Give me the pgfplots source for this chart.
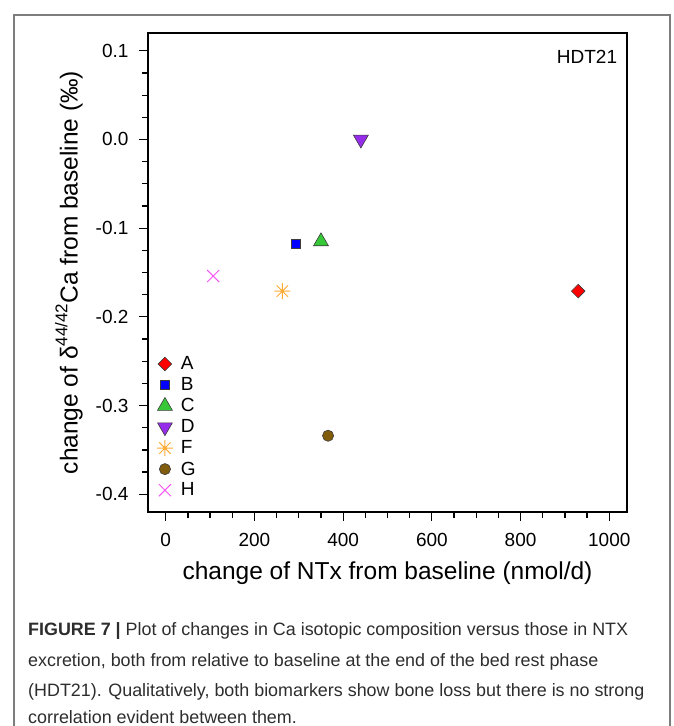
\documentclass[border=0pt]{standalone}
\usepackage{pgfplots}
\pgfplotsset{compat=1.18}
\usepackage{fontspec}
\setmainfont{Liberation Sans}

\definecolor{cA}{RGB}{255,0,0}
\definecolor{cB}{RGB}{0,0,255}
\definecolor{cC}{RGB}{55,200,55}
\definecolor{cD}{RGB}{150,45,235}
\definecolor{cF}{RGB}{255,170,50}
\definecolor{cG}{RGB}{128,92,12}
\definecolor{cH}{RGB}{245,85,245}
\definecolor{mk}{RGB}{60,60,60}
\definecolor{frame}{RGB}{125,125,125}
\definecolor{captext}{RGB}{45,45,45}

% eight-armed star for series F
\pgfdeclareplotmark{star8}{%
  \pgfpathmoveto{\pgfqpoint{0pt}{\pgfplotmarksize}}%
  \pgfpathlineto{\pgfqpoint{0pt}{-\pgfplotmarksize}}%
  \pgfpathmoveto{\pgfqpoint{\pgfplotmarksize}{0pt}}%
  \pgfpathlineto{\pgfqpoint{-\pgfplotmarksize}{0pt}}%
  \pgfpathmoveto{\pgfqpoint{0.7071\pgfplotmarksize}{0.7071\pgfplotmarksize}}%
  \pgfpathlineto{\pgfqpoint{-0.7071\pgfplotmarksize}{-0.7071\pgfplotmarksize}}%
  \pgfpathmoveto{\pgfqpoint{-0.7071\pgfplotmarksize}{0.7071\pgfplotmarksize}}%
  \pgfpathlineto{\pgfqpoint{0.7071\pgfplotmarksize}{-0.7071\pgfplotmarksize}}%
  \pgfusepathqstroke}

\newcommand{\tickfont}{\fontsize{19pt}{21pt}\selectfont}
\newcommand{\labfont}{\fontsize{24.5pt}{26pt}\selectfont}
\newcommand{\capfont}{\fontsize{17.9pt}{20pt}\selectfont}

\begin{document}
\begin{tikzpicture}
  \useasboundingbox (0pt,0pt) rectangle (673pt,-726pt);
  \draw[frame, line width=2pt] (14pt,-740pt) -- (14pt,-15pt) -- (670pt,-15pt) -- (670pt,-740pt);

  \begin{axis}[
    at={(148pt,-512pt)}, anchor=south west,
    width=479pt, height=479pt, scale only axis,
    xmin=-40, xmax=1040, ymin=-0.42, ymax=0.12,
    xtick={0,200,400,600,800,1000},
    ytick={-0.4,-0.3,-0.2,-0.1,0,0.1},
    minor x tick num=3, minor y tick num=3,
    tick pos=left, tick align=outside,
    major tick length=9pt, minor tick length=6pt,
    axis line style={line width=1.2pt},
    every tick/.style={black, line width=1.2pt},
    /pgf/number format/assume math mode=true,
    /pgf/number format/1000 sep={},
    ticklabel style={font=\tickfont},
    xticklabel style={yshift=-9pt},
    yticklabel style={xshift=-7pt, /pgf/number format/.cd, fixed, fixed zerofill, precision=1},
    xlabel={change of NTx from baseline (nmol/d)},
    ylabel={change of δ\raisebox{0.42em}{\fontsize{17pt}{17pt}\selectfont 44/42}Ca from baseline (‰)},
    xlabel style={font=\labfont, at={(axis description cs:0.5,-0.127)}, anchor=center},
    ylabel style={font=\labfont, at={(axis description cs:-0.165,0.5)}, anchor=center},
    legend cell align=left,
    legend style={at={(rel axis cs:0.012,0.333)}, anchor=north west, draw=none, fill=none,
      font=\tickfont, row sep=2.4pt,
      /tikz/every odd column/.append style={column sep=6pt}},
  ]
    \addplot[only marks, mark=square*, mark size=4.8pt,
      mark options={rotate=45, fill=cA, draw=mk, line width=0.6pt}]
      coordinates {(930,-0.171)};
    \addlegendentry{A}
    \addplot[only marks, mark=square*, mark size=4.5pt,
      mark options={fill=cB, draw=mk, line width=0.6pt}]
      coordinates {(293,-0.118)};
    \addlegendentry{B}
    \addplot[only marks, mark=triangle*, mark size=8.6pt,
      mark options={fill=cC, draw=mk, line width=0.6pt}]
      coordinates {(350,-0.115)};
    \addlegendentry{C}
    \addplot[only marks, mark=triangle*, mark size=8.6pt,
      mark options={rotate=180, fill=cD, draw=mk, line width=0.6pt}]
      coordinates {(440,0.0)};
    \addlegendentry{D}
    \addplot[only marks, mark=star8, mark size=8pt,
      mark options={draw=cF, line width=1pt}]
      coordinates {(263,-0.171)};
    \addlegendentry{F}
    \addplot[only marks, mark=*, mark size=5.6pt,
      mark options={fill=cG, draw=mk, line width=0.6pt}]
      coordinates {(366,-0.334)};
    \addlegendentry{G}
    \addplot[only marks, mark=x, mark size=8.5pt,
      mark options={draw=cH, line width=1pt}]
      coordinates {(107,-0.154)};
    \addlegendentry{H}

    \node[font=\tickfont, anchor=center] at (rel axis cs:0.9165,0.950) {HDT21};
  \end{axis}

  \begin{scope}[every node/.style={anchor=base west, inner sep=0pt, font=\capfont, text=captext}]
    \node at (28pt,-635pt) {\textbf{FIGURE 7 |} Plot of changes in Ca isotopic composition versus those in NTX};
    \node at (28pt,-666pt) {excretion, both from relative to baseline at the end of the bed rest phase};
    \node at (28pt,-696pt) {(HDT21). Qualitatively, both biomarkers show bone loss but there is no strong};
    \node at (28pt,-723pt) {correlation evident between them.};
  \end{scope}
\end{tikzpicture}
\end{document}
